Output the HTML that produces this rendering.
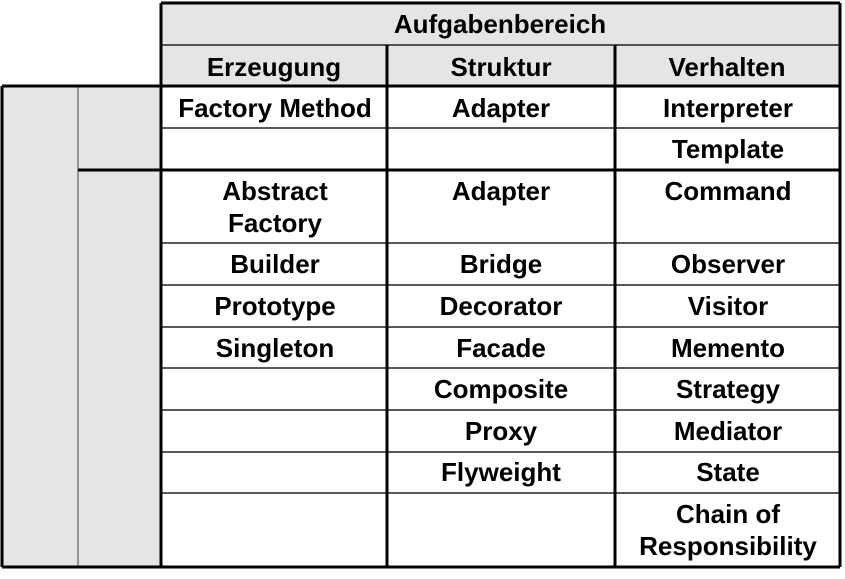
<!DOCTYPE html>
<html><head><meta charset="utf-8"><style>
html,body{margin:0;padding:0;background:#fff;width:845px;height:579px;overflow:hidden}
svg text{font-family:"Liberation Sans",Arial,sans-serif;font-weight:bold;font-size:26px;text-anchor:middle;fill:#000}
</style></head><body>
<svg width="845" height="579" viewBox="0 0 845 579" xmlns="http://www.w3.org/2000/svg">
<rect x="161" y="3" width="679" height="83" fill="#e5e5e5"/>
<rect x="2" y="86" width="159" height="481" fill="#e5e5e5"/>
<g stroke="#222" stroke-width="1.5">
<line x1="161" y1="45" x2="840" y2="45"/>
<line x1="161" y1="128" x2="840" y2="128"/>
<line x1="161" y1="243" x2="840" y2="243"/>
<line x1="161" y1="285" x2="840" y2="285"/>
<line x1="161" y1="327" x2="840" y2="327"/>
<line x1="161" y1="368" x2="840" y2="368"/>
<line x1="161" y1="410" x2="840" y2="410"/>
<line x1="161" y1="452" x2="840" y2="452"/>
<line x1="161" y1="493" x2="840" y2="493"/>
</g>
<line x1="78" y1="86" x2="78" y2="567" stroke="#444" stroke-width="1"/>
<g stroke="#000" stroke-width="3">
<line x1="161" y1="3" x2="840" y2="3"/>
<line x1="840" y1="3" x2="840" y2="567"/>
<line x1="161" y1="3" x2="161" y2="567"/>
<line x1="2" y1="86" x2="840" y2="86"/>
<line x1="2" y1="86" x2="2" y2="567"/>
<line x1="2" y1="567" x2="840" y2="567"/>
<line x1="78" y1="170" x2="840" y2="170"/>
<line x1="387" y1="45" x2="387" y2="567"/>
<line x1="615" y1="45" x2="615" y2="567"/>
</g>
<text x="500" y="33">Aufgabenbereich</text>
<text x="274" y="76">Erzeugung</text>
<text x="501" y="76">Struktur</text>
<text x="727" y="76">Verhalten</text>
<text x="275" y="117">Factory Method</text>
<text x="501" y="117">Adapter</text>
<text x="728" y="117">Interpreter</text>
<text x="728" y="158">Template</text>
<text x="275" y="200">Abstract</text>
<text x="275" y="232">Factory</text>
<text x="501" y="200">Adapter</text>
<text x="728" y="200">Command</text>
<text x="275" y="273">Builder</text>
<text x="501" y="273">Bridge</text>
<text x="728" y="273">Observer</text>
<text x="275" y="315">Prototype</text>
<text x="501" y="315">Decorator</text>
<text x="728" y="315">Visitor</text>
<text x="275" y="357">Singleton</text>
<text x="501" y="357">Facade</text>
<text x="728" y="357">Memento</text>
<text x="501" y="398">Composite</text>
<text x="728" y="398">Strategy</text>
<text x="501" y="440">Proxy</text>
<text x="728" y="440">Mediator</text>
<text x="501" y="481">Flyweight</text>
<text x="728" y="481">State</text>
<text x="728" y="523">Chain of</text>
<text x="728" y="555">Responsibility</text>
</svg>
</body></html>
